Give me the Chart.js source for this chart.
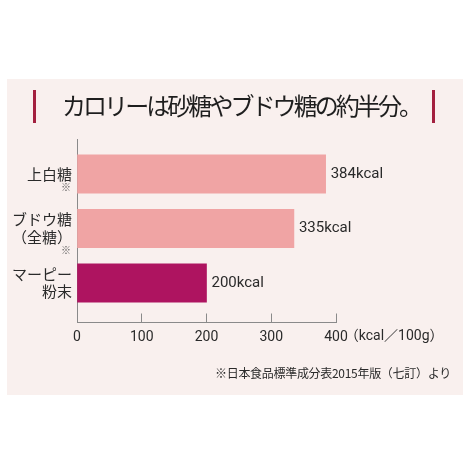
<!DOCTYPE html>
<html>
<head>
<meta charset="utf-8">
<script src="https://cdn.jsdelivr.net/npm/chart.js@4/dist/chart.umd.min.js"></script>
<style>
  html, body { margin: 0; padding: 0; background: #ffffff; }
  #wrap { width: 474px; height: 474px; }
</style>
</head>
<body>
<div id="wrap"><canvas id="c" width="474" height="474"></canvas></div>
<script>
// ---- data ----
const categories = [['上白糖'], ['ブドウ糖', '（全糖）'], ['マーピー', '粉末']];
const categoryNotes = ['※', '※', ''];
const values = [384, 335, 200];
const valueUnit = 'kcal';
const barColors = ['#f0a4a4', '#f0a4a4', '#ae1460'];
const xTicks = [0, 100, 200, 300, 400];
const axisUnit = '（kcal／100g）';
const titleText = 'カロリーは砂糖やブドウ糖の約半分。';
const footnote = '※日本食品標準成分表2015年版（七訂）より';

const JP = "'Noto Sans CJK JP', 'Noto Sans', sans-serif";
const NUM = "Roboto, 'Noto Sans CJK JP', sans-serif";

function fitText(ctx, text, targetWidth) {
  ctx.letterSpacing = '0px';
  const w = ctx.measureText(text).width;
  const n = Array.from(text).length;
  const sp = (targetWidth - w) / n;
  ctx.letterSpacing = sp.toFixed(2) + 'px';
}

const decor = {
  id: 'decor',
  beforeDraw(chart) {
    const ctx = chart.ctx;
    ctx.save();
    ctx.fillStyle = '#ffffff';
    ctx.fillRect(0, 0, 474, 474);
    ctx.fillStyle = '#f9f0ee';
    ctx.fillRect(7, 79, 456, 316);
    // title bars
    ctx.fillStyle = '#a3203f';
    ctx.fillRect(33, 90, 3, 33);
    ctx.fillRect(432, 90, 3, 33);
    // title
    ctx.fillStyle = '#1e1e1e';
    ctx.font = '24px ' + JP;
    ctx.textAlign = 'left';
    ctx.textBaseline = 'middle';
    fitText(ctx, titleText, 358);
    ctx.fillText(titleText, 62, 106);
    ctx.letterSpacing = '0px';
    ctx.restore();
  },
  afterDraw(chart) {
    const ctx = chart.ctx;
    const xs = chart.scales.x, ys = chart.scales.y;
    ctx.save();
    // value labels
    const meta = chart.getDatasetMeta(0);
    ctx.fillStyle = '#2a2a2a';
    ctx.font = '15px ' + NUM;
    ctx.textAlign = 'left';
    ctx.textBaseline = 'middle';
    meta.data.forEach((bar, i) => {
      ctx.fillText(values[i] + valueUnit, bar.x + 5, bar.y);
    });
    // category notes
    ctx.font = '10px ' + JP;
    ctx.fillStyle = '#555';
    ctx.textAlign = 'right';
    categories.forEach((lines, i) => {
      if (!categoryNotes[i]) return;
      const y = ys.getPixelForValue(i) + lines.length * 17.5 / 2 + 4;
      ctx.fillText(categoryNotes[i], 71, y);
    });
    // axis unit after last tick
    ctx.font = '14px ' + NUM;
    ctx.fillStyle = '#2a2a2a';
    ctx.textAlign = 'left';
    ctx.textBaseline = 'middle';
    const last = xTicks[xTicks.length - 1];
    const w = ctx.measureText(String(last)).width;
    ctx.fillText(axisUnit, xs.getPixelForValue(last) + w / 2 - 3, 336);
    // footnote
    ctx.font = '12px ' + JP;
    ctx.textAlign = 'left';
    fitText(ctx, footnote, 236);
    ctx.fillText(footnote, 215, 373);
    ctx.letterSpacing = '0px';
    ctx.restore();
  }
};

new Chart(document.getElementById('c'), {
  type: 'bar',
  data: {
    datasets: [{
      data: values.map((v, i) => ({ x: v, y: i })),
      backgroundColor: barColors,
      borderWidth: 0,
      barThickness: 38.5
    }]
  },
  options: {
    indexAxis: 'y',
    responsive: false,
    animation: false,
    devicePixelRatio: 1,
    layout: { padding: { left: 0, right: 138, top: 139, bottom: 0 } },
    plugins: { legend: { display: false }, tooltip: { enabled: false }, title: { display: false } },
    scales: {
      x: {
        type: 'linear',
        min: 0, max: 400,
        afterBuildTicks(s) { s.ticks = xTicks.map(v => ({ value: v })); },
        afterFit(s) { s.height = 474 - 139 - 183.5; },
        border: { display: true, color: '#8a8a8a', width: 1 },
        grid: { display: true, drawOnChartArea: false, drawTicks: true, tickLength: -9, color: '#8a8a8a', tickColor: '#8a8a8a' },
        ticks: { padding: 16, maxRotation: 0, color: '#2a2a2a', font: { family: NUM, size: 14 } }
      },
      y: {
        type: 'linear',
        reverse: true,
        offset: false,
        min: -0.642, max: 2.725,
        afterBuildTicks(s) { s.ticks = categories.map((c, i) => ({ value: i })); },
        afterFit(s) { s.width = 77; },
        border: { display: true, color: '#8a8a8a', width: 1 },
        grid: { display: false, drawTicks: false, offset: false },
        ticks: {
          padding: 5,
          color: '#2a2a2a',
          font: { family: JP, size: 15, lineHeight: 1.17 },
          callback: (v) => categories[v] || ''
        }
      }
    }
  },
  plugins: [decor]
});
</script>
</body>
</html>
